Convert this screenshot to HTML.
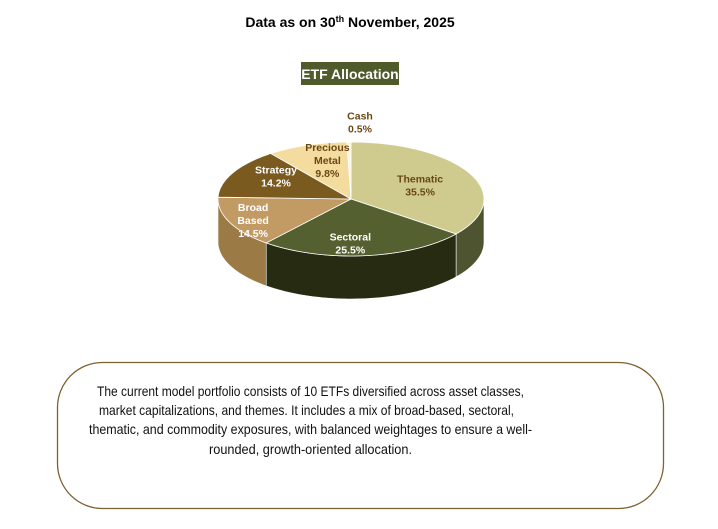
<!DOCTYPE html>
<html><head><meta charset="utf-8"><style>
html,body{margin:0;padding:0;background:#fff;}
svg{display:block;font-family:"Liberation Sans",sans-serif;}
</style></head><body>
<svg id="chart" width="718" height="529" viewBox="0 0 718 529">
  <text x="350" y="27" text-anchor="middle" font-size="14" font-weight="bold" fill="#000">Data as on 30<tspan font-size="9" dy="-5">th</tspan><tspan dy="5"> November, 2025</tspan></text>
  <rect x="301" y="62" width="98" height="23" fill="#4f5b2b"/>
  <text x="350" y="79" text-anchor="middle" font-size="14" font-weight="bold" fill="#fff">ETF Allocation</text>
  <g id="pie"></g>
  <rect x="57.5" y="362.5" width="606" height="146" rx="45" ry="45" fill="#fff" stroke="#7d6232" stroke-width="1.3"/>
  <g font-size="14" fill="#111" text-anchor="middle">
    <text x="310.5" y="396" textLength="427" lengthAdjust="spacingAndGlyphs">The current model portfolio consists of 10 ETFs diversified across asset classes,</text>
    <text x="306.5" y="415" textLength="415" lengthAdjust="spacingAndGlyphs">market capitalizations, and themes. It includes a mix of broad-based, sectoral,</text>
    <text x="310.5" y="434" textLength="443" lengthAdjust="spacingAndGlyphs">thematic, and commodity exposures, with balanced weightages to ensure a well-</text>
    <text x="310.5" y="454" textLength="203" lengthAdjust="spacingAndGlyphs">rounded, growth-oriented allocation.</text>
  </g>
</svg>
<script>
const categories = ["Thematic","Sectoral","Broad Based","Strategy","Precious Metal","Cash"];
const values = [35.5,25.5,14.5,14.2,9.8,0.5];
const valueLabels = ["35.5%","25.5%","14.5%","14.2%","9.8%","0.5%"];
const topColors = ["#cfcb8f","#556031","#c19b63","#7a5a1f","#f3dc9d","#fbf5e0"];
const sideColors = ["#4e5430","#262b12","#9c7a45","#5a4215","#c9b070","#ddd"];
const labelColors = ["#6a4716","#ffffff","#ffffff","#ffffff","#6a4716","#6a4716"];
const cx=351, cy=199, rx=133, ry=57, depth=43;
const NS="http://www.w3.org/2000/svg";
const g=document.getElementById('pie');
function pt(a,dy){return [cx+rx*Math.sin(a), cy-ry*Math.cos(a)+(dy||0)];}
function arcPath(a1,a2,dy){let s="";const n=40;for(let i=0;i<=n;i++){const a=a1+(a2-a1)*i/n;const p=pt(a,dy);s+=(i?"L":"M")+p[0].toFixed(2)+","+p[1].toFixed(2);}return s;}
const total=values.reduce((a,b)=>a+b,0);
let acc=0;const angles=values.map(v=>{const a1=acc/total*2*Math.PI;acc+=v;return [a1,acc/total*2*Math.PI];});
angles.forEach((r,i)=>{
  const s=Math.max(r[0],Math.PI/2), e=Math.min(r[1],3*Math.PI/2);
  if(e<=s) return;
  const n=40;let d="";
  for(let k=0;k<=n;k++){const a=s+(e-s)*k/n;const p=pt(a,0);d+=(k?"L":"M")+p[0].toFixed(2)+","+p[1].toFixed(2);}
  for(let k=n;k>=0;k--){const a=s+(e-s)*k/n;const p=pt(a,depth);d+="L"+p[0].toFixed(2)+","+p[1].toFixed(2);}
  d+="Z";
  const path=document.createElementNS(NS,'path');
  path.setAttribute('d',d);path.setAttribute('fill',sideColors[i]);
  path.setAttribute('stroke','#fff');path.setAttribute('stroke-width','0.6');
  
  
  g.appendChild(path);
});
angles.forEach((r,i)=>{
  const d="M"+cx+","+cy+arcPath(r[0],r[1],0).replace(/^M/,"L")+"Z";
  const path=document.createElementNS(NS,'path');
  path.setAttribute('d',d);path.setAttribute('fill',topColors[i]);
  path.setAttribute('stroke','#fff');path.setAttribute('stroke-width','0.8');
  
  
  g.appendChild(path);
});
const factors=[0.62,0.5,0.75,0.66,0.6,1.45];
const nudgeX=[-5,-8,-7,3,3,12];
const nudgeY=[2,16,4,-5,-6,6];
angles.forEach((r,i)=>{
  const m=(r[0]+r[1])/2;const f=factors[i];
  const x=cx+rx*f*Math.sin(m)+nudgeX[i], y=cy-ry*f*Math.cos(m)+nudgeY[i];
  const words=categories[i].split(' ');const lines=words.concat([valueLabels[i]]);
  const t=document.createElementNS(NS,'text');
  t.setAttribute('text-anchor','middle');t.setAttribute('font-size','10.5');t.setAttribute('font-weight','bold');
  t.setAttribute('fill',labelColors[i]);
  
  
  const lh=13;const y0=y-(lines.length-1)*lh/2+3.5;
  lines.forEach((ln,k)=>{const ts=document.createElementNS(NS,'tspan');ts.setAttribute('x',x.toFixed(1));ts.setAttribute('y',(y0+k*lh).toFixed(1));ts.textContent=ln;t.appendChild(ts);});
  g.appendChild(t);
});
</script>
</body></html>
